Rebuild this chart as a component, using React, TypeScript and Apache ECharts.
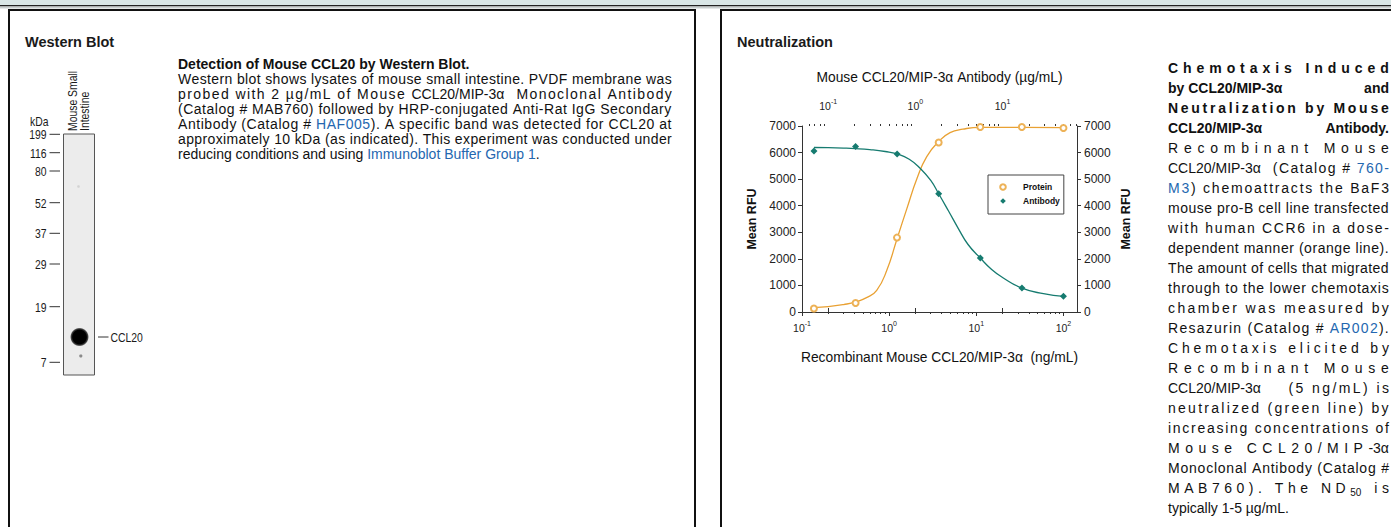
import React, { useEffect, useRef } from "react";
import * as echarts from "echarts";

// ---------------- data ----------------
// Recombinant Mouse CCL20/MIP-3α (bottom axis, ng/mL)
const proteinConc = [0.137, 0.412, 1.23, 3.7, 11.1, 33.3, 100];
const proteinRFU = [130, 340, 2800, 6380, 6960, 6960, 6925];
// Antibody (top axis, µg/mL)
const antibodyConc = [0.0686, 0.206, 0.617, 1.85, 5.56, 16.7, 50];
const antibodyRFU = [6060, 6225, 5950, 4450, 2030, 900, 590];
// fitted curves
const proteinCurveConc = [0.137, 0.2, 0.3, 0.412, 0.55, 0.72, 0.94, 1.23, 1.6, 2.1, 2.7, 3.7, 5.0, 7.0, 11.1, 33.3, 100];
const proteinCurveRFU = [165, 200, 280, 377, 540, 816, 1570, 2750, 3900, 5050, 5850, 6420, 6750, 6880, 6950, 6950, 6940];
const antibodyCurveConc = [0.0686, 0.1, 0.15, 0.206, 0.3, 0.45, 0.617, 0.85, 1.14, 1.5, 1.85, 2.4, 3.1, 4.0, 5.56, 7.5, 10, 16.7, 29.5, 50];
const antibodyCurveRFU = [6190, 6185, 6170, 6150, 6110, 6040, 5950, 5750, 5400, 4950, 4450, 3800, 3150, 2550, 2030, 1600, 1300, 900, 690, 590];

const bottomRange = [0.1, 143];
const topRange = [0.05, 71.5];
const bottomMajorTicks = [0.1, 1, 10, 100];
const topMajorTicks = [0.1, 1, 10];
const bottomMinorTicks = [0.2, 0.3, 0.4, 0.5, 0.6, 0.7, 0.8, 0.9, 2, 3, 4, 5, 6, 7, 8, 9, 20, 30, 40, 50, 60, 70, 80, 90];
const topMinorTicks = [0.06, 0.07, 0.08, 0.09, 0.2, 0.3, 0.4, 0.5, 0.6, 0.7, 0.8, 0.9, 2, 3, 4, 5, 6, 7, 8, 9, 20, 30, 40, 50, 60, 70];
const yMin = 0;
const yMax = 7000;
const yInterval = 1000;

const legendNames = ["Protein", "Antibody"];
const kDaLabels = ["199", "116", "80", "52", "37", "29", "19", "7"];

// ---------------- layout / style ----------------
const kDaY = [134.3, 152.7, 171, 202.7, 233.3, 264, 306.7, 362.3];
const SANS = "'Liberation Sans', Arial, Helvetica, sans-serif";
const ORANGE = "#E9A133";
const ORANGE_PT = "#EDB257";
const TEAL = "#167B70";
const LINK = "#2467B0";
const AXIS = "#333";
const NARROW_SCALE = 0.8;

function supLabel(v: number) {
  const lg = Math.log10(v);
  const e = Math.round(lg);
  if (Math.abs(lg - e) > 1e-6) return "";
  return `{b|10}{s|${e}}`;
}
const supRich = {
  b: { fontSize: 10.5, lineHeight: 15, color: "#222", fontFamily: SANS },
  s: { fontSize: 7, lineHeight: 8, verticalAlign: "top", color: "#222", fontFamily: SANS },
};

function txt(text: string, x: number, y: number, font: string, align = "left", valign = "middle", extra: any = {}) {
  const { styleExtra, ...rest } = extra;
  return {
    type: "text",
    x,
    y,
    silent: true,
    ...rest,
    style: {
      text,
      font,
      fill: "#1a1a1a",
      textAlign: align,
      textVerticalAlign: valign,
      align,
      verticalAlign: valign,
      ...(styleExtra || {}),
    },
  };
}

function buildOption() {
  const blotFont = `13px ${SANS}`;
  const narrow = { scaleX: NARROW_SCALE };
  const graphics: any[] = [
    // top decoration
    { type: "rect", silent: true, shape: { x: 0, y: 0, width: 1391, height: 5 }, style: { fill: "#D9E6E6" } },
    { type: "rect", silent: true, shape: { x: 0, y: 5, width: 1391, height: 1.6 }, style: { fill: "#222" } },
    { type: "rect", silent: true, shape: { x: 0, y: 6.6, width: 1391, height: 2 }, style: { fill: "#C9CFCF" } },
    // panels
    { type: "rect", silent: true, shape: { x: 9, y: 10, width: 686, height: 600 }, style: { fill: "none", stroke: "#111", lineWidth: 2 } },
    { type: "rect", silent: true, shape: { x: 721, y: 10, width: 800, height: 600 }, style: { fill: "none", stroke: "#111", lineWidth: 2 } },
    txt("Western Blot", 25, 42, `bold 14.5px ${SANS}`),
    txt("Neutralization", 737, 42, `bold 14.5px ${SANS}`),
    // western blot membrane
    { type: "rect", silent: true, shape: { x: 63.5, y: 134, width: 31, height: 241 }, style: { fill: "#ECECEC", stroke: "#555", lineWidth: 1 } },
    {
      type: "circle",
      silent: true,
      shape: { cx: 79.5, cy: 337, r: 9.5 },
      style: {
        fill: new echarts.graphic.RadialGradient(0.5, 0.5, 0.5, [
          { offset: 0, color: "#000" },
          { offset: 0.72, color: "#000" },
          { offset: 0.88, color: "#444" },
          { offset: 1, color: "rgba(100,100,100,0)" },
        ]),
      },
    },
    { type: "circle", silent: true, shape: { cx: 80.8, cy: 356, r: 1.6 }, style: { fill: "#8a8a8a" } },
    { type: "circle", silent: true, shape: { cx: 78.5, cy: 186.5, r: 1.3 }, style: { fill: "#d2d2d2" } },
    txt("kDa", 30, 121, blotFont, "left", "middle", narrow),
    txt("Mouse Small\nIntestine", 66.5, 131, blotFont, "left", "top", {
      rotation: Math.PI / 2,
      scaleX: NARROW_SCALE,
      styleExtra: { lineHeight: 11.5 },
    }),
    { type: "line", silent: true, shape: { x1: 98, y1: 337, x2: 108.5, y2: 337 }, style: { stroke: "#333", lineWidth: 1 } },
    txt("CCL20", 110.5, 337, blotFont, "left", "middle", narrow),
  ];
  kDaLabels.forEach((lab, i) => {
    graphics.push(txt(lab, 46.5, kDaY[i], blotFont, "right", "middle", narrow));
    graphics.push({ type: "line", silent: true, shape: { x1: 49.5, y1: kDaY[i], x2: 60, y2: kDaY[i] }, style: { stroke: "#333", lineWidth: 1 } });
  });

  const axisLine = { show: true, lineStyle: { color: AXIS, width: 1 } };
  const tickStyle = { color: AXIS, width: 1 };
  const nameStyle = { fontSize: 13.8, color: "#111", fontFamily: SANS };
  const yNameStyle = { fontSize: 12.5, fontWeight: "bold", color: "#111", fontFamily: SANS };
  const yLabel = { fontSize: 12, color: "#222", fontFamily: SANS, formatter: (v: number) => String(v) };

  return {
    animation: false,
    textStyle: { fontFamily: SANS },
    graphic: { elements: graphics },
    grid: { left: 802, right: 314, top: 126, bottom: 215, containLabel: false, outerBoundsMode: "none" },
    legend: {
      data: legendNames,
      orient: "vertical",
      left: 988,
      top: 175,
      padding: [6, 4, 7, 0],
      itemWidth: 30,
      itemHeight: 7,
      itemGap: 2,
      borderColor: "#444",
      borderWidth: 1,
      backgroundColor: "#fff",
      selectedMode: false,
      textStyle: { fontSize: 8.5, fontWeight: "bold", lineHeight: 12, color: "#111", fontFamily: SANS },
    },
    xAxis: [
      {
        type: "log",
        logBase: 10,
        min: bottomRange[0],
        max: bottomRange[1],
        position: "bottom",
        name: "Recombinant Mouse CCL20/MIP-3α  (ng/mL)",
        nameLocation: "middle",
        nameGap: 38,
        nameTextStyle: nameStyle,
        axisLine,
        axisTick: { show: true, inside: false, length: 4, lineStyle: tickStyle, customValues: bottomMajorTicks },
        axisLabel: { margin: 8, formatter: supLabel, rich: supRich, customValues: bottomMajorTicks },
        splitLine: { show: false },
      },
      {
        type: "log",
        logBase: 10,
        min: topRange[0],
        max: topRange[1],
        position: "top",
        name: "Mouse CCL20/MIP-3α Antibody (µg/mL)",
        nameLocation: "middle",
        nameGap: 42,
        nameTextStyle: nameStyle,
        axisLine,
        axisTick: { show: true, inside: false, length: 4, lineStyle: tickStyle, customValues: topMajorTicks },
        axisLabel: { margin: 13, formatter: supLabel, rich: supRich, customValues: topMajorTicks },
        splitLine: { show: false },
      },
      {
        type: "log",
        logBase: 10,
        min: bottomRange[0],
        max: bottomRange[1],
        position: "bottom",
        axisLine: { show: false },
        axisTick: { show: true, inside: false, length: 2, lineStyle: tickStyle, customValues: bottomMinorTicks },
        axisLabel: { show: false },
        splitLine: { show: false },
      },
      {
        type: "log",
        logBase: 10,
        min: topRange[0],
        max: topRange[1],
        position: "top",
        axisLine: { show: false },
        axisTick: { show: true, inside: false, length: 2, lineStyle: tickStyle, customValues: topMinorTicks },
        axisLabel: { show: false },
        splitLine: { show: false },
      },
    ],
    yAxis: [
      {
        type: "value",
        min: yMin,
        max: yMax,
        interval: yInterval,
        position: "left",
        name: "Mean RFU",
        nameLocation: "middle",
        nameRotate: 90,
        nameGap: 43.5,
        nameTextStyle: yNameStyle,
        axisLine,
        axisTick: { show: true, inside: false, length: 4, lineStyle: tickStyle },
        axisLabel: { margin: 6, ...yLabel },
        splitLine: { show: false },
      },
      {
        type: "value",
        min: yMin,
        max: yMax,
        interval: yInterval,
        position: "right",
        name: "Mean RFU",
        nameLocation: "middle",
        nameRotate: 90,
        nameGap: 42.5,
        nameTextStyle: yNameStyle,
        axisLine,
        axisTick: { show: true, inside: false, length: 4, lineStyle: tickStyle },
        axisLabel: { margin: 7, ...yLabel },
        splitLine: { show: false },
      },
    ],
    series: [
      {
        type: "line",
        name: "Protein curve",
        xAxisIndex: 0,
        yAxisIndex: 0,
        data: proteinCurveConc.map((c, i) => [c, proteinCurveRFU[i]]),
        smooth: 0.5,
        symbol: "none",
        silent: true,
        lineStyle: { color: ORANGE, width: 1.3 },
        z: 2,
      },
      {
        type: "line",
        name: "Antibody curve",
        xAxisIndex: 1,
        yAxisIndex: 0,
        data: antibodyCurveConc.map((c, i) => [c, antibodyCurveRFU[i]]),
        smooth: 0.5,
        symbol: "none",
        silent: true,
        lineStyle: { color: TEAL, width: 1.3 },
        z: 2,
      },
      {
        type: "line",
        name: "Protein",
        xAxisIndex: 0,
        yAxisIndex: 0,
        data: proteinConc.map((c, i) => [c, proteinRFU[i]]),
        symbol: "emptyCircle",
        symbolSize: 6,
        showSymbol: true,
        silent: true,
        lineStyle: { width: 0, opacity: 0 },
        itemStyle: { color: ORANGE_PT, borderWidth: 1 },
        z: 3,
      },
      {
        type: "line",
        name: "Antibody",
        xAxisIndex: 1,
        yAxisIndex: 0,
        data: antibodyConc.map((c, i) => [c, antibodyRFU[i]]),
        symbol: "diamond",
        symbolSize: 7,
        showSymbol: true,
        silent: true,
        lineStyle: { width: 0, opacity: 0 },
        itemStyle: { color: TEAL },
        z: 3,
      },
    ],
  };
}

// ---------------- paragraph text ----------------
type Seg = { t: string; bold?: boolean; link?: boolean; atom?: boolean; sub?: boolean };
type TLine = { segs: Seg[]; justify: boolean };

const leftLines: TLine[] = [
  { segs: [{ t: "Detection of Mouse CCL20 by Western Blot.", bold: true }], justify: false },
  { segs: [{ t: "Western blot shows lysates of mouse small intestine. PVDF membrane was" }], justify: true },
  { segs: [{ t: "probed with 2 µg/mL of Mouse " }, { t: "CCL20/MIP-3α", atom: true }, { t: "  Monoclonal Antibody" }], justify: true },
  { segs: [{ t: "(Catalog # MAB760) followed by HRP-conjugated Anti-Rat IgG Secondary" }], justify: true },
  { segs: [{ t: "Antibody (Catalog # " }, { t: "HAF005", link: true }, { t: "). A specific band was detected for CCL20 at" }], justify: true },
  { segs: [{ t: "approximately 10 kDa (as indicated). This experiment was conducted under" }], justify: true },
  { segs: [{ t: "reducing conditions and using " }, { t: "Immunoblot Buffer Group 1", link: true }, { t: "." }], justify: false },
];

const rightLines: TLine[] = [
  { segs: [{ t: "Chemotaxis Induced", bold: true }], justify: true },
  { segs: [{ t: "by CCL20/MIP-3α", bold: true, atom: true }, { t: "and", bold: true, atom: true }], justify: true },
  { segs: [{ t: "Neutralization by Mouse", bold: true }], justify: true },
  { segs: [{ t: "CCL20/MIP-3α", bold: true, atom: true }, { t: "Antibody.", bold: true, atom: true }], justify: true },
  { segs: [{ t: "Recombinant Mouse" }], justify: true },
  { segs: [{ t: "CCL20/MIP-3α", atom: true }, { t: "  (Catalog # " }, { t: "760-", link: true }], justify: true },
  { segs: [{ t: "M3", link: true }, { t: ") chemoattracts the BaF3" }], justify: true },
  { segs: [{ t: "mouse pro-B cell line transfected" }], justify: true },
  { segs: [{ t: "with human CCR6 in a dose-" }], justify: true },
  { segs: [{ t: "dependent manner (orange line)." }], justify: true },
  { segs: [{ t: "The amount of cells that migrated" }], justify: true },
  { segs: [{ t: "through to the lower chemotaxis" }], justify: true },
  { segs: [{ t: "chamber was measured by" }], justify: true },
  { segs: [{ t: "Resazurin (Catalog # " }, { t: "AR002", link: true }, { t: ")." }], justify: true },
  { segs: [{ t: "Chemotaxis elicited by" }], justify: true },
  { segs: [{ t: "Recombinant Mouse" }], justify: true },
  { segs: [{ t: "CCL20/MIP-3α", atom: true }, { t: "    (5 ng/mL) is" }], justify: true },
  { segs: [{ t: "neutralized (green line) by" }], justify: true },
  { segs: [{ t: "increasing concentrations of" }], justify: true },
  { segs: [{ t: "Mouse CCL20/MIP" }, { t: "-3α", atom: true }], justify: true },
  { segs: [{ t: "Monoclonal Antibody (Catalog #" }], justify: true },
  { segs: [{ t: "MAB760). The ND" }, { t: "50", sub: true }, { t: " is" }], justify: true },
  { segs: [{ t: "typically 1-5 µg/mL." }], justify: false },
];

function segStyle(s: Seg): React.CSSProperties {
  const st: React.CSSProperties = {};
  if (s.bold) st.fontWeight = 700;
  if (s.link) st.color = LINK;
  if (s.sub) {
    st.fontSize = 10;
    st.position = "relative";
    st.top = 5;
  }
  return st;
}

function Line({ line, left, centerY, width }: { line: TLine; left: number; centerY: number; width: number }) {
  const base: React.CSSProperties = {
    position: "absolute",
    left,
    top: centerY - 10,
    width,
    height: 20,
    lineHeight: "20px",
    fontSize: 14,
    fontFamily: SANS,
    color: "#111",
    whiteSpace: "pre",
  };
  if (!line.justify) {
    return (
      <div style={base}>
        {line.segs.map((s, i) => (
          <span key={i} style={segStyle(s)}>
            {s.t}
          </span>
        ))}
      </div>
    );
  }
  const items: { t: string; s: Seg }[] = [];
  line.segs.forEach((s) => {
    if (s.atom || s.sub) items.push({ t: s.t, s });
    else Array.from(s.t).forEach((ch) => items.push({ t: ch, s }));
  });
  return (
    <div style={{ ...base, display: "flex", justifyContent: "space-between" }}>
      {items.map((it, i) => (
        <span key={i} style={{ ...segStyle(it.s), flexShrink: 0 }}>
          {it.t}
        </span>
      ))}
    </div>
  );
}

export default function App() {
  const ref = useRef<HTMLDivElement>(null);
  useEffect(() => {
    if (!ref.current) return;
    const chart = echarts.init(ref.current, null, { renderer: "svg" });
    chart.setOption(buildOption() as any);
    return () => chart.dispose();
  }, []);
  return (
    <div style={{ position: "fixed", left: 0, top: 0, width: 1391, height: 527, background: "#fff", overflow: "hidden" }}>
      <div ref={ref} style={{ position: "absolute", left: 0, top: 0, width: 1391, height: 527 }} />
      <div style={{ position: "absolute", left: 0, top: 0, width: 1391, height: 527, pointerEvents: "none" }}>
        {leftLines.map((l, i) => (
          <Line key={"l" + i} line={l} left={178} centerY={63.5 + 15 * i} width={494} />
        ))}
        {rightLines.map((l, i) => (
          <Line key={"r" + i} line={l} left={1168} centerY={68 + 20 * i} width={221} />
        ))}
      </div>
    </div>
  );
}
